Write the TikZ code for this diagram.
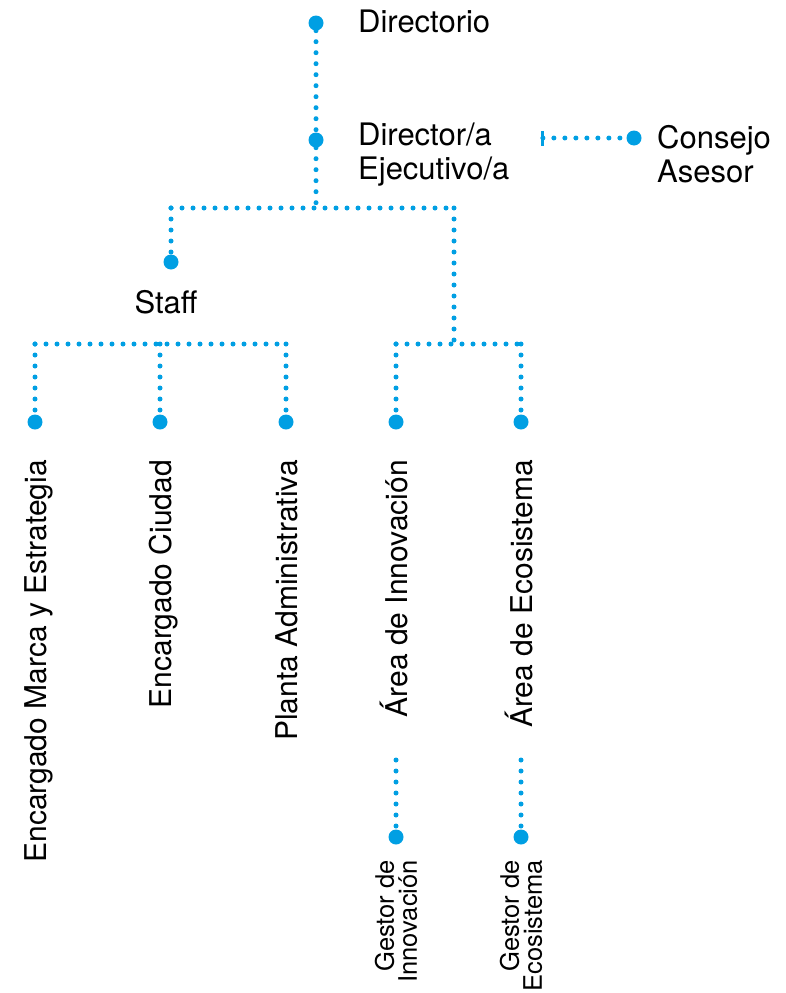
\documentclass[tikz,border=0pt]{standalone}
\usepackage{fontspec}
\setmainfont{TeX Gyre Heros}
\usepackage{tikz}
\usetikzlibrary{arrows.meta}
\definecolor{orgblue}{RGB}{0,159,227}

\begin{document}
\begin{tikzpicture}[x=1pt, y=-1pt,
		dots/.style = {orgblue, line width=5pt, line cap=round, dash pattern=on 0pt off 11pt},
		knot/.style = {circle, fill=orgblue, inner sep=0pt, minimum size=15pt},
		lbl/.style = {inner sep=0pt, align=left, font=\fontsize{31}{34}\selectfont},
		vlbl/.style = {inner sep=0pt, rotate=90, anchor=base east, font=\fontsize{30}{32}\selectfont},
		slbl/.style = {inner sep=0pt, rotate=90, anchor=east, align=right, font=\fontsize{25.5}{23}\selectfont}]
		\useasboundingbox (0,0) rectangle (785,993);

		% puntos
		\node[knot] (dirDot) at (316,23) {};
		\node[knot] (ejecDot) at (316,140) {};
		\node[knot] (staffDot) at (171,262) {};
		\node[knot] (consejoDot) at (634,138) {};
		\node[knot] (marcaDot) at (35,422) {};
		\node[knot] (ciudadDot) at (160,422) {};
		\node[knot] (plantaDot) at (286,422) {};
		\node[knot] (innovDot) at (396,422) {};
		\node[knot] (ecoDot) at (521,422) {};
		\node[knot] (gesInnDot) at (396,837) {};
		\node[knot] (gesEcoDot) at (521,837) {};

		% textos
		\node[lbl, anchor=base west] (dir) at (358,32) {Directorio};
		\node[lbl, anchor=north west] (ejec) at (358,123) {Director/a\\Ejecutivo/a};
		\node[lbl, anchor=north west] (consejo) at (657,125) {Consejo\\Asesor};
		\node[lbl, anchor=base] (staff) at (166,313) {Staff};
		\node[vlbl] (marca) at (46,460) {Encargado Marca y Estrategia};
		\node[vlbl] (ciudad) at (171,460) {Encargado Ciudad};
		\node[vlbl] (planta) at (297,460) {Planta Administrativa};
		\node[vlbl] (innov) at (407,460) {Área de Innovación};
		\node[vlbl] (eco) at (532,460) {Área de Ecosistema};
		\node[slbl] (gesInn) at (396,860) {Gestor de\\Innovación};
		\node[slbl] (gesEco) at (521,860) {Gestor de\\Ecosistema};

		% uniones
		\coordinate (splitM) at (316,208);
		\coordinate (splitL) at (171,208);
		\coordinate (splitR) at (454,208);
		\coordinate (staffL) at (35,344);
		\coordinate (staffM) at (160,344);
		\coordinate (staffR) at (286,344);
		\coordinate (areaM) at (454,344);
		\coordinate (areaL) at (396,344);
		\coordinate (areaR) at (521,344);
		\coordinate (consejoBar) at (541,138);
		\coordinate (innovTail) at (396,760);
		\coordinate (ecoTail) at (521,760);

		\draw[dots] (dirDot) -- (ejecDot);
		\draw[dots] (ejecDot) -- (splitM);
		\draw[dots] (splitL) -- (splitR);
		\draw[dots] (splitL) -- (staffDot);
		\draw[dots] (splitR) -- (areaM);
		\draw[dots] (staffL) -- (staffR);
		\draw[dots] (staffL) -- (marcaDot);
		\draw[dots] (staffM) -- (ciudadDot);
		\draw[dots] (staffR) -- (plantaDot);
		\draw[dots] (areaL) -- (areaR);
		\draw[dots] (areaL) -- (innovDot);
		\draw[dots] (areaR) -- (ecoDot);
		\draw[dots, {Bar[width=15pt, line width=2.5pt]}-] (consejoBar) -- (consejoDot);
		\draw[dots] (innovTail) -- (gesInnDot);
		\draw[dots] (ecoTail) -- (gesEcoDot);
	\end{tikzpicture}
\end{document}
